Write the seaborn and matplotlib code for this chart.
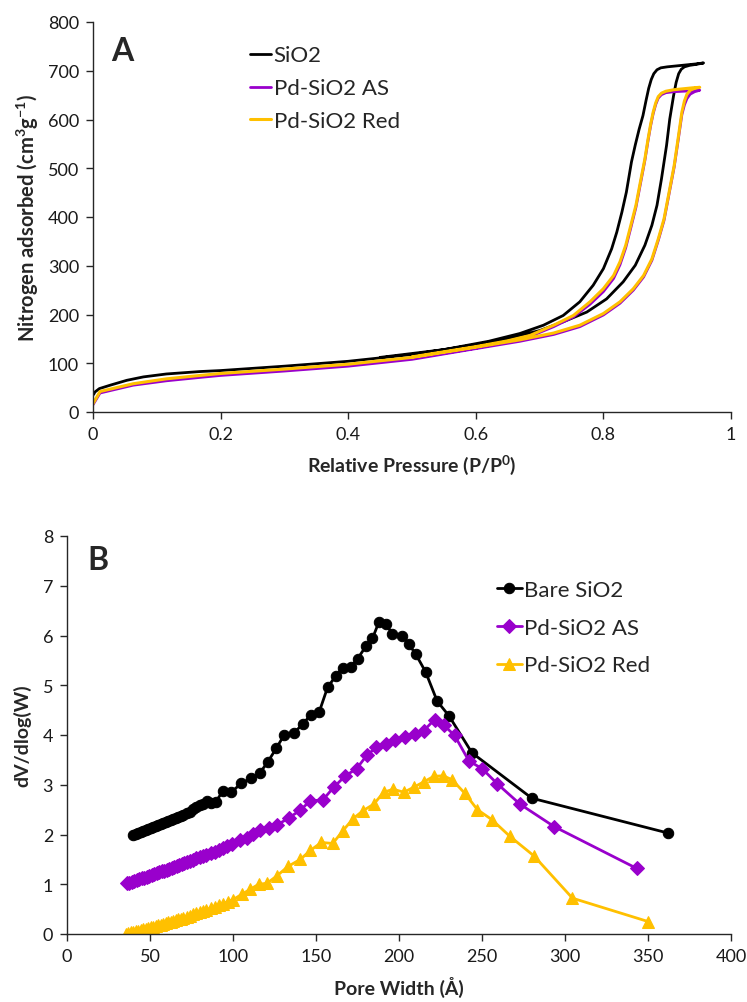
import numpy as np
import pandas as pd
import matplotlib
matplotlib.use("Agg")
import matplotlib.pyplot as plt
import seaborn as sns

# ---------------- Panel A: N2 isotherms (adsorption then desorption) ----------------
sio2_ads_p = [0.001, 0.003, 0.010, 0.027, 0.053, 0.079, 0.115, 0.168, 0.20, 0.30, 0.40, 0.50,
              0.60, 0.65, 0.70, 0.737, 0.774, 0.805, 0.831, 0.850, 0.865, 0.876, 0.884, 0.891,
              0.899, 0.904, 0.910, 0.914, 0.918, 0.922, 0.927, 0.935, 0.945, 0.957]
sio2_ads_v = [36, 41, 48, 55, 65, 72, 78, 83, 85, 94, 104, 118,
              138, 151, 167, 185, 205, 232, 267, 301, 342, 383, 424, 478,
              547, 601, 649, 676, 694, 703, 708, 711, 713, 716]
sio2_des_p = [0.945, 0.930, 0.915, 0.900, 0.890, 0.884, 0.879, 0.875, 0.871, 0.867, 0.862,
              0.856, 0.850, 0.844, 0.836, 0.829, 0.821, 0.813, 0.800, 0.784, 0.763, 0.737,
              0.706, 0.669, 0.62, 0.55, 0.45]
sio2_des_v = [714, 712, 710, 708, 706, 702, 694, 682, 664, 640, 608,
              580, 548, 513, 451, 410, 369, 335, 294, 260, 226, 198,
              178, 161, 145, 128, 112]

red_ads_p = [0.0, 0.011, 0.037, 0.063, 0.115, 0.168, 0.20, 0.30, 0.40, 0.50, 0.60, 0.669,
             0.722, 0.763, 0.800, 0.826, 0.847, 0.863, 0.876, 0.886, 0.895, 0.903, 0.911,
             0.917, 0.923, 0.927, 0.931, 0.936, 0.943, 0.951]
red_ads_v = [17, 42, 50, 58, 68, 75, 79, 88, 98, 112, 133, 148,
             162, 178, 202, 226, 253, 280, 314, 355, 396, 451, 506,
             560, 615, 638, 652, 660, 664, 666]
red_des_p = [0.940, 0.925, 0.910, 0.898, 0.891, 0.886, 0.882, 0.878, 0.874, 0.870, 0.865,
             0.858, 0.851, 0.843, 0.835, 0.826, 0.816, 0.800, 0.779, 0.753, 0.722, 0.685,
             0.65, 0.60, 0.50]
red_des_v = [665, 663, 661, 658, 654, 647, 634, 615, 590, 560, 519,
             472, 424, 383, 342, 308, 280, 253, 226, 198, 178, 157,
             146, 134, 113]

as_ads_p = red_ads_p
as_ads_v = [15, 39, 47, 55, 64, 71, 75, 84, 94, 108, 130, 145,
            159, 175, 199, 223, 250, 277, 311, 352, 393, 448, 503,
            556, 610, 630, 643, 652, 657, 660]
as_des_p = red_des_p
as_des_v = [659, 658, 657, 655, 651, 644, 631, 612, 587, 557, 516,
            468, 420, 378, 337, 302, 274, 247, 221, 195, 175, 155,
            144, 131, 110]

# ---------------- Panel B: pore size distributions ----------------
bare_w = [40, 41.5, 43, 44.5, 46, 47.5, 49, 50.5, 52, 53.5, 55, 56.5, 58, 59.5, 61, 62.5, 64,
          65.5, 67, 68.5, 70, 72, 74, 76, 78, 80, 82, 84.5, 87, 89.5, 94, 99, 105, 111, 116,
          121, 126, 131, 137, 142, 147, 152, 157, 162, 166, 171, 175, 180, 184, 188, 192, 196,
          202, 206, 210, 216, 223, 230, 244, 280, 362]
bare_dv = [2.00, 2.02, 2.04, 2.06, 2.08, 2.10, 2.12, 2.14, 2.16, 2.17, 2.19, 2.21, 2.23, 2.25,
           2.27, 2.29, 2.31, 2.33, 2.36, 2.38, 2.40, 2.43, 2.46, 2.52, 2.56, 2.60, 2.62, 2.67,
           2.64, 2.65, 2.88, 2.85, 3.03, 3.13, 3.23, 3.46, 3.73, 4.01, 4.05, 4.22, 4.41, 4.47,
           4.96, 5.19, 5.35, 5.37, 5.53, 5.78, 5.94, 6.28, 6.24, 6.03, 6.00, 5.82, 5.63, 5.27,
           4.68, 4.39, 3.64, 2.73, 2.03]

pdas_w = [36, 37.5, 39, 40.5, 42, 43.5, 45, 46.5, 48, 49.5, 51, 52.5, 54, 55.5, 57, 58.5, 60,
          61.5, 63, 64.5, 66, 67.5, 69, 70.5, 72, 74, 76, 78, 80, 82, 84, 86.5, 89, 91.5, 94,
          96.5, 99.4, 104.4, 108.4, 112, 116.4, 121.5, 126.5, 133.5, 140.6, 146.6, 154, 160.7,
          167.7, 174.4, 180.8, 186.4, 191.9, 197.5, 203.9, 209.4, 215, 221.4, 227, 233.5,
          242.1, 250.2, 259.2, 272.9, 293.4, 343.1]
pdas_dv = [1.02, 1.03, 1.05, 1.07, 1.08, 1.10, 1.12, 1.13, 1.15, 1.17, 1.19, 1.20, 1.22, 1.24,
           1.26, 1.27, 1.29, 1.31, 1.33, 1.35, 1.36, 1.38, 1.40, 1.42, 1.44, 1.46, 1.49, 1.52,
           1.54, 1.57, 1.59, 1.62, 1.65, 1.69, 1.72, 1.76, 1.81, 1.88, 1.93, 2.01, 2.09, 2.13,
           2.19, 2.33, 2.49, 2.68, 2.69, 2.95, 3.18, 3.32, 3.60, 3.75, 3.82, 3.89, 3.95, 4.02,
           4.09, 4.31, 4.20, 3.99, 3.48, 3.32, 3.02, 2.61, 2.16, 1.32]

pdred_w = [35.5, 37, 38.5, 40, 41.5, 43, 44.5, 46, 47.5, 49, 50.5, 52, 53.5, 55, 56.5, 58,
           59.5, 61, 62.5, 64, 65.5, 67, 68.5, 70, 72, 74, 76, 78, 80, 82, 84, 86.5, 89, 91.5,
           94, 97, 100, 105.4, 110.4, 115.5, 120.5, 126.5, 133.2, 140.6, 146.6, 153.2, 160.1,
           166.3, 172.4, 178.4, 184.8, 190.8, 196.5, 202.9, 208.9, 215, 221, 226.7, 232,
           239.6, 247.2, 255.9, 266.9, 281.3, 304.5, 350.1]
pdred_dv = [0.01, 0.02, 0.04, 0.05, 0.06, 0.07, 0.09, 0.10, 0.11, 0.12, 0.14, 0.15, 0.16,
            0.18, 0.19, 0.21, 0.22, 0.24, 0.25, 0.27, 0.28, 0.30, 0.31, 0.33, 0.35, 0.37,
            0.40, 0.42, 0.45, 0.47, 0.49, 0.52, 0.55, 0.58, 0.61, 0.65, 0.69, 0.80, 0.90,
            1.00, 1.02, 1.17, 1.36, 1.50, 1.68, 1.84, 1.82, 2.08, 2.32, 2.48, 2.61, 2.85,
            2.91, 2.85, 2.95, 3.06, 3.17, 3.18, 3.10, 2.83, 2.50, 2.30, 1.96, 1.57, 0.72, 0.25]

BLACK = "#000000"
PURPLE = "#9900CC"
GOLD = "#FFC000"

sns.set_theme(style="ticks")
plt.rcParams["font.family"] = ["Lato", "DejaVu Sans"]
plt.rcParams["mathtext.fontset"] = "custom"
plt.rcParams["mathtext.rm"] = "Lato"
plt.rcParams["mathtext.bf"] = "Lato:bold"
plt.rcParams["axes.edgecolor"] = "#262626"
plt.rcParams["axes.linewidth"] = 1.0

fig = plt.figure(figsize=(7.47, 10.03), dpi=100)
axA = fig.add_axes([93 / 747, 1 - 413 / 1003, 638 / 747, 390 / 1003])
axB = fig.add_axes([67 / 747, 1 - 935 / 1003, 664 / 747, 398 / 1003])


def loop(p_ads, v_ads, p_des, v_des):
    return pd.DataFrame({"p": list(p_ads) + list(p_des), "v": list(v_ads) + list(v_des)})


isotherms = [
    ("SiO2", loop(sio2_ads_p, sio2_ads_v, sio2_des_p, sio2_des_v), BLACK, 2.0),
    ("Pd-SiO2 AS", loop(as_ads_p, as_ads_v, as_des_p, as_des_v), PURPLE, 2.0),
    ("Pd-SiO2 Red", loop(red_ads_p, red_ads_v, red_des_p, red_des_v), GOLD, 2.2),
]
for name, df, col, lw in isotherms:
    sns.lineplot(data=df, x="p", y="v", sort=False, estimator=None, color=col,
                 linewidth=lw, label=name, ax=axA)

axA.set_xlim(0, 1)
axA.set_ylim(0, 800)
axA.set_xticks(np.arange(0, 1.01, 0.2))
axA.set_xticklabels(["0", "0.2", "0.4", "0.6", "0.8", "1"])
axA.set_yticks(np.arange(0, 801, 100))
axA.set_xlabel(r"Relative Pressure (P/P$^{\mathbf{0}}$)", fontsize=14, fontweight="bold", labelpad=7)
axA.set_ylabel(r"Nitrogen adsorbed (cm$^{\mathbf{3}}$g$^{\mathbf{-1}}$)", fontsize=14.5,
               fontweight="bold", labelpad=5)
axA.text(0.028, 0.926, "A", transform=axA.transAxes, fontsize=23, fontweight="bold",
         va="center", ha="left")
axA.legend(loc="upper left", bbox_to_anchor=(0.246, 0.94), frameon=False, fontsize=16,
           handlelength=0.95, handletextpad=0.12, labelspacing=0.58, borderpad=0,
           borderaxespad=0)

series_b = [
    ("Bare SiO2", bare_w, bare_dv, BLACK, "o", 7.5),
    ("Pd-SiO2 AS", pdas_w, pdas_dv, PURPLE, "D", 6.8),
    ("Pd-SiO2 Red", pdred_w, pdred_dv, GOLD, "^", 8),
]
for name, w, dv, col, mk, ms in series_b:
    sns.lineplot(x=w, y=dv, sort=False, estimator=None, color=col, linewidth=2.0,
                 marker=mk, markersize=ms, markeredgecolor=col, markerfacecolor=col,
                 label=name, ax=axB)

axB.set_xlim(0, 400)
axB.set_ylim(0, 8)
axB.set_xticks(np.arange(0, 401, 50))
axB.set_yticks(np.arange(0, 9, 1))
axB.set_xlabel("Pore Width (Å)", fontsize=14, fontweight="bold", labelpad=9)
axB.set_ylabel("dV/dlog(W)", fontsize=14, fontweight="bold", labelpad=8)
axB.text(0.030, 0.94, "B", transform=axB.transAxes, fontsize=23, fontweight="bold",
         va="center", ha="left")
axB.legend(loc="upper left", bbox_to_anchor=(0.648, 0.89), frameon=False, fontsize=16,
           handlelength=1.1, handletextpad=0.1, labelspacing=0.8, borderpad=0,
           borderaxespad=0)

for ax in (axA, axB):
    sns.despine(ax=ax)
    ax.tick_params(axis="both", which="major", labelsize=13, length=5, width=1,
                   direction="out", color="#262626", labelcolor="#1a1a1a", pad=5)
    ax.grid(False)

fig.savefig("out.png", dpi=100)
